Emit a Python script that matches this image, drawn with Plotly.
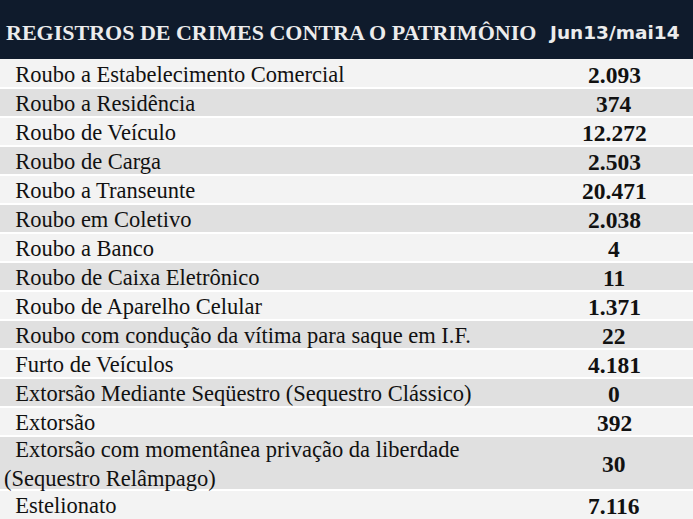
import plotly.graph_objects as go

header_labels = ["REGISTROS DE CRIMES CONTRA O PATRIMÔNIO", "Jun13/mai14"]
categories = [
    "Roubo a Estabelecimento Comercial",
    "Roubo a Residência",
    "Roubo de Veículo",
    "Roubo de Carga",
    "Roubo a Transeunte",
    "Roubo em Coletivo",
    "Roubo a Banco",
    "Roubo de Caixa Eletrônico",
    "Roubo de Aparelho Celular",
    "Roubo com condução da vítima para saque em I.F.",
    "Furto de Veículos",
    "Extorsão Mediante Seqüestro (Sequestro Clássico)",
    "Extorsão",
    "Extorsão com momentânea privação da liberdade<br>(Sequestro Relâmpago)",
    "Estelionato",
]
values = ["2.093", "374", "12.272", "2.503", "20.471", "2.038", "4", "11",
          "1.371", "22", "4.181", "0", "392", "30", "7.116"]

# ---- layout geometry (pixels in axis units) ----
W, H = 693, 519
HEADER_H = 59
LINE_H = 25
ROW_PAD = 4
HEADER_BG = "#0f1b2c"
ROW_FILLS = ["#f3f3f3", "#e0e0e0"]
indent = "\u00a0\u00a0"

shapes = []
annotations = []

# header
shapes.append(dict(type="rect", xref="x", yref="y", x0=0, x1=W, y0=0, y1=HEADER_H,
                   fillcolor=HEADER_BG, line=dict(width=0), layer="below"))
annotations.append(dict(x=4, y=HEADER_H / 2 + 3, xref="x", yref="y",
                        text="<b>" + header_labels[0] + "</b>", showarrow=False,
                        xanchor="left", yanchor="middle",
                        font=dict(family="Liberation Serif", size=22, color="#ececec")))
annotations.append(dict(x=614, y=HEADER_H / 2 + 3, xref="x", yref="y",
                        text="<b>" + header_labels[1] + "</b>", showarrow=False,
                        xanchor="center", yanchor="middle",
                        font=dict(family="DejaVu Sans", size=18.5, color="#ececec")))

y = HEADER_H
for i, (cat, val) in enumerate(zip(categories, values)):
    nlines = cat.count("<br>") + 1
    h = ROW_PAD + LINE_H * nlines
    shapes.append(dict(type="rect", xref="x", yref="y", x0=0, x1=W, y0=y, y1=y + h,
                       fillcolor=ROW_FILLS[i % 2], line=dict(width=0), layer="below"))
    if i > 0:
        shapes.append(dict(type="line", xref="x", yref="y", x0=0, x1=W, y0=y, y1=y,
                           line=dict(color="white", width=2), layer="below"))
    cy = y + h / 2
    annotations.append(dict(x=2, y=cy + 1, xref="x", yref="y", text=indent + cat,
                            showarrow=False, xanchor="left", yanchor="middle", align="left",
                            font=dict(family="Liberation Serif", size=22.5, color="#111111")))
    annotations.append(dict(x=614, y=cy + 1, xref="x", yref="y", text="<b>" + val + "</b>",
                            showarrow=False, xanchor="center", yanchor="middle",
                            font=dict(family="Liberation Serif", size=23.5, color="#111111")))
    y += h

fig = go.Figure()
fig.update_layout(
    width=W, height=H, margin=dict(l=0, r=0, t=0, b=0),
    paper_bgcolor="white", plot_bgcolor="white",
    xaxis=dict(range=[0, W], visible=False, fixedrange=True),
    yaxis=dict(range=[H, 0], visible=False, fixedrange=True),
    shapes=shapes, annotations=annotations, showlegend=False,
)
fig.write_html("out.html", config=dict(displayModeBar=False),
               post_script="document.body.style.margin='0';document.body.style.overflow='hidden';")
